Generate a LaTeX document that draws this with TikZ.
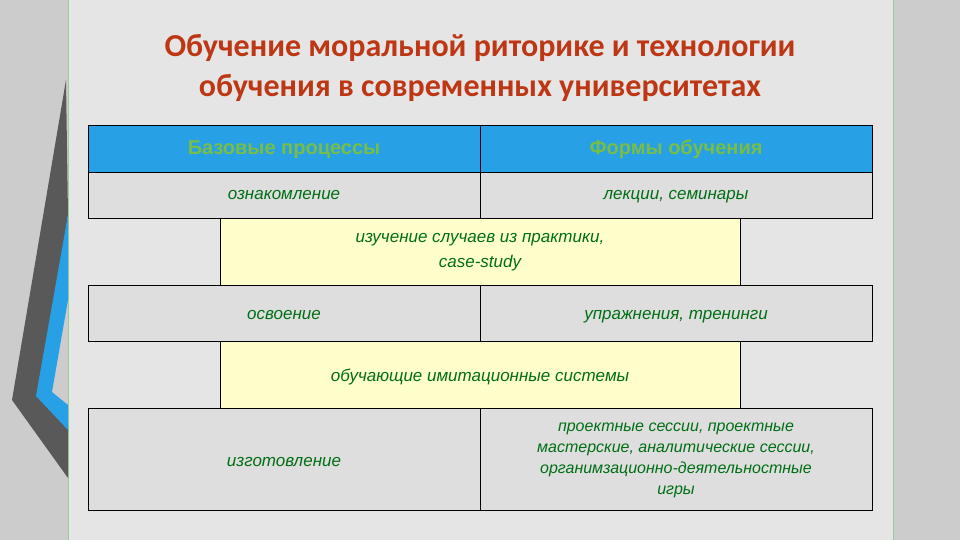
\documentclass[tikz,border=0pt]{standalone}
\usepackage{fontspec}
\setmainfont{Liberation Sans}
\newfontfamily\titlefont{Carlito}
\begin{document}
\begin{tikzpicture}[x=1pt,y=-1pt,
  cell/.style={draw=black,line width=1pt,fill=cellgrey},
  ycell/.style={draw=black,line width=0.8pt,fill=cellyellow},
  txt/.style={text=txtgreen,font=\itshape\fontsize{17}{25}\selectfont,align=center,text height=12pt,text depth=4pt},
  head/.style={text=headgreen,font=\bfseries\fontsize{20}{24}\selectfont,text height=14pt,text depth=4pt}]
\definecolor{cellgrey}{RGB}{222,222,222}
\definecolor{cellyellow}{RGB}{255,255,204}
\definecolor{txtgreen}{RGB}{0,110,20}
\definecolor{headgreen}{RGB}{120,190,70}
\definecolor{headblue}{RGB}{40,160,230}
\definecolor{titlered}{RGB}{190,55,20}
\useasboundingbox (0,0) rectangle (960,540);
\fill[gray!40] (0,0) rectangle (960,540);
\fill[gray!20,draw=green!40!gray!60,line width=1pt] (68,0) rectangle (893,540);
% left decoration
\fill[gray!70!black] (66,80) -- (12,400) -- (68,478) -- (68,425) -- (40,398) -- (68,215) -- cycle;
\fill[headblue] (68,215) -- (36,396) -- (68,430) -- (68,405) -- (52,392) -- (68,300) -- cycle;
\node[font=\titlefont\bfseries\fontsize{32}{40}\selectfont,text=titlered,align=center] (title) at (480,68) {Обучение моральной риторике и технологии\\обучения в современных университетах};
% header
\path[cell,fill=headblue] (88,126) rectangle (480,173);
\path[cell,fill=headblue] (480,126) rectangle (872,173);
\node[head] (hA) at (284,150) {Базовые процессы};
\node[head] (hB) at (676,150) {Формы обучения};
\path[cell] (88,173) rectangle (480,218);
\path[cell] (480,173) rectangle (872,218);
\node[txt] (r1a) at (284,196) {ознакомление};
\node[txt] (r1b) at (676,196) {лекции, семинары};
\path[ycell] (220,218) rectangle (740,285);
\node[txt,text height=,text depth=] (y1) at (480,252) {изучение случаев из практики,\\case-study};
\path[cell] (88,285) rectangle (480,341);
\path[cell] (480,285) rectangle (872,341);
\node[txt] (r2a) at (284,315) {освоение};
\node[txt] (r2b) at (676,315) {упражнения, тренинги};
\path[ycell] (220,341) rectangle (740,408);
\node[txt] (y2) at (480,377) {обучающие имитационные системы};
\path[cell] (88,408) rectangle (480,510);
\path[cell] (480,408) rectangle (872,510);
\node[txt] (r3a) at (284,462) {изготовление};
\node[txt,text height=,text depth=,font=\itshape\fontsize{16}{21}\selectfont] (r3b) at (676,460) {проектные сессии, проектные\\мастерские, аналитические сессии,\\органимзационно-деятельностные\\игры};
\end{tikzpicture}
\end{document}
